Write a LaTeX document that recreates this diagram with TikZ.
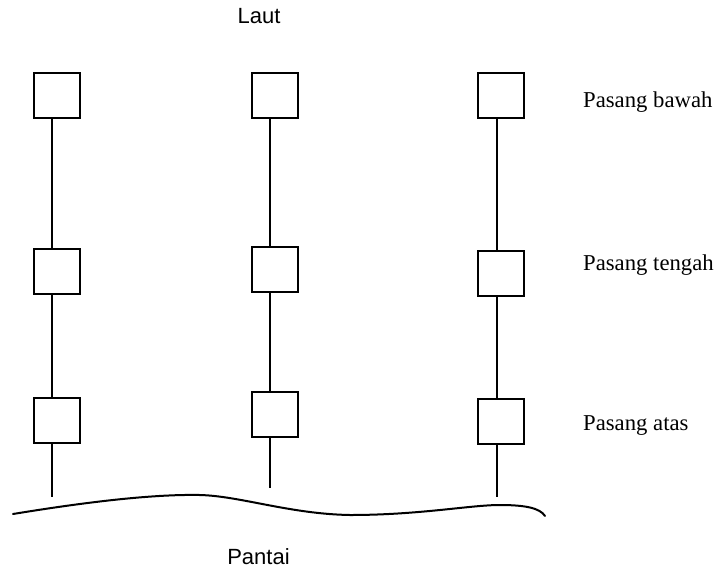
\documentclass[tikz,border=0pt]{standalone}
\usepackage{fontspec}
\setmainfont{Liberation Serif}
\newfontfamily\labelsans{Liberation Sans}
\begin{document}
\begin{tikzpicture}[x=1pt,y=-1pt,
  pbox/.style={draw, line width=2pt, minimum width=46pt, minimum height=45pt, inner sep=0pt},
  rope/.style={line width=1.4pt},
  shore/.style={line width=2pt, line cap=round},
  sanslabel/.style={font=\labelsans\fontsize{22}{26}\selectfont, inner sep=0pt},
  seriflabel/.style={font=\fontsize{22.7}{26}\selectfont, inner sep=0pt, anchor=base west}
]
\useasboundingbox (0,0) rectangle (715,568);
% squares: column 1
\node[pbox] (a1) at (56.5,95.5) {};
\node[pbox] (a2) at (56.5,271.5) {};
\node[pbox] (a3) at (56.5,420.5) {};
% column 2
\node[pbox] (b1) at (275,95.5) {};
\node[pbox] (b2) at (275,269) {};
\node[pbox] (b3) at (275,414) {};
% column 3
\node[pbox] (c1) at (501,95.5) {};
\node[pbox] (c2) at (501,273) {};
\node[pbox] (c3) at (501,421.5) {};
% free ends
\coordinate (ae) at (52,497);
\coordinate (be) at (270,488);
\coordinate (ce) at (497,497);
% ropes
\draw[rope] ([xshift=-4.5pt]a1.south) -- ([xshift=-4.5pt]a2.north);
\draw[rope] ([xshift=-4.5pt]a2.south) -- ([xshift=-4.5pt]a3.north);
\draw[rope] ([xshift=-4.5pt]a3.south) -- (ae);
\draw[rope] ([xshift=-5pt]b1.south) -- ([xshift=-5pt]b2.north);
\draw[rope] ([xshift=-5pt]b2.south) -- ([xshift=-5pt]b3.north);
\draw[rope] ([xshift=-5pt]b3.south) -- (be);
\draw[rope] ([xshift=-4pt]c1.south) -- ([xshift=-4pt]c2.north);
\draw[rope] ([xshift=-4pt]c2.south) -- ([xshift=-4pt]c3.north);
\draw[rope] ([xshift=-4pt]c3.south) -- (ce);
% shoreline
\draw[shore] (13,514) .. controls (80,503) and (150,494) .. (200,495)
  .. controls (240,496) and (290,514) .. (350,515)
  .. controls (420,515) and (470,505) .. (500,505)
  .. controls (525,505) and (540,508) .. (545,516);
% labels
\node[sanslabel] (laut) at (259,16) {Laut};
\node[sanslabel] (pantai) at (258.5,556.5) {Pantai};
\node[seriflabel] (pb) at (583,107) {Pasang bawah};
\node[seriflabel] (pt) at (583,270) {Pasang tengah};
\node[seriflabel] (pa) at (583,430) {Pasang atas};
\end{tikzpicture}
\end{document}
